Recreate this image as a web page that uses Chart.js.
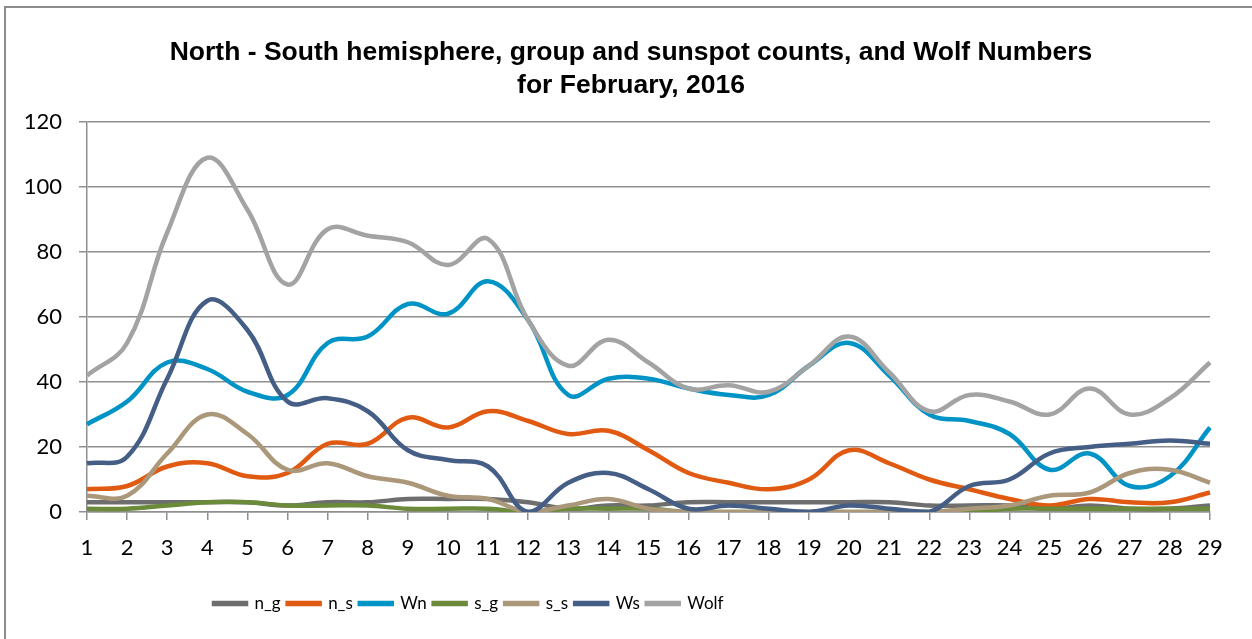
<!DOCTYPE html>
<html>
<head>
<meta charset="utf-8">
<script src="https://cdn.jsdelivr.net/npm/chart.js@4.4.1/dist/chart.umd.min.js"></script>
<style>
  html, body { margin: 0; padding: 0; background: #fff; overflow: hidden; }
  #frame { position: absolute; left: 4px; top: 6px; width: 1400px; height: 800px; border: 2px solid #8c8c8c; }
  #wrap { position: absolute; left: 0; top: 0; width: 1252px; height: 639px; }
</style>
</head>
<body>
<div id="frame"></div>
<div id="wrap"><canvas id="chart"></canvas></div>
<script>
const days = ['1','2','3','4','5','6','7','8','9','10','11','12','13','14','15',
              '16','17','18','19','20','21','22','23','24','25','26','27','28','29'];

const n_g  = [3, 3, 3, 3, 3, 2, 3, 3, 4, 4, 4, 3, 1, 2, 2, 3, 3, 3, 3, 3, 3, 2, 2, 2, 1, 2, 1, 1, 2];
const n_s  = [7, 8, 14, 15, 11, 12, 21, 21, 29, 26, 31, 28, 24, 25, 19, 12, 9, 7, 10, 19, 15, 10, 7, 4, 2, 4, 3, 3, 6];
const Wn   = [27, 34, 46, 44, 37, 36, 52, 54, 64, 61, 71, 59, 36, 41, 41, 38, 36, 36, 45, 52, 42, 30, 28, 24, 13, 18, 8, 11, 26];
const s_g  = [1, 1, 2, 3, 3, 2, 2, 2, 1, 1, 1, 0, 1, 1, 1, 0, 0, 0, 0, 0, 0, 0, 0, 1, 1, 1, 1, 1, 1];
const s_s  = [5, 5, 18, 30, 24, 13, 15, 11, 9, 5, 4, 0, 2, 4, 1, 0, 0, 0, 0, 0, 0, 0, 1, 2, 5, 6, 12, 13, 9];
const Ws   = [15, 17, 41, 65, 56, 34, 35, 31, 19, 16, 14, 0, 9, 12, 7, 1, 2, 1, 0, 2, 1, 0, 8, 10, 18, 20, 21, 22, 21];
const Wolf = [42, 52, 86, 109, 93, 70, 87, 85, 83, 76, 84, 59, 45, 53, 46, 38, 39, 37, 45, 54, 43, 31, 36, 34, 30, 38, 30, 35, 46];

const yTicks = [0, 20, 40, 60, 80, 100, 120];

const series = [
  { label: 'n_g',  data: n_g,  color: '#6e6e6e' },
  { label: 'n_s',  data: n_s,  color: '#e05a12' },
  { label: 'Wn',   data: Wn,   color: '#0094c6' },
  { label: 's_g',  data: s_g,  color: '#6b8b3b' },
  { label: 's_s',  data: s_s,  color: '#ab987a' },
  { label: 'Ws',   data: Ws,   color: '#455e85' },
  { label: 'Wolf', data: Wolf, color: '#a3a3a3' },
];

// excel centres the title on the whole frame and puts the legend left of centre
const placeBlocks = {
  id: 'placeBlocks',
  afterLayout(chart) {
    chart.titleBlock.left = 0;
    chart.titleBlock.right = 1262;
    chart.legend.left = 207;
  }
};

const gridColor = '#8f8f8f';

new Chart(document.getElementById('chart'), {
  type: 'line',
  data: {
    labels: days,
    datasets: series.map((s, i) => ({
      label: s.label,
      data: s.data,
      borderColor: s.color,
      backgroundColor: s.color,
      borderWidth: 4.5,
      pointRadius: 0,
      tension: 0.4,
      order: series.length - i,
    }))
  },
  options: {
    responsive: true,
    maintainAspectRatio: false,
    animation: false,
    layout: { padding: { left: 0, right: 42, top: 0, bottom: 17 } },
    plugins: {
      title: {
        display: true,
        text: ['North - South hemisphere, group and sunspot counts, and Wolf Numbers', 'for February, 2016'],
        color: '#000',
        font: { family: '"Liberation Sans", Arial, sans-serif', size: 26.5, weight: 'bold', lineHeight: 1.245 },
        padding: { top: 36, bottom: 20 }
      },
      legend: {
        position: 'bottom',
        align: 'start',
        labels: {
          boxWidth: 32,
          boxHeight: 1,
          padding: 7,
          color: '#000',
          font: { family: 'Lato, sans-serif', size: 17 },
          sort: (a, b) => a.datasetIndex - b.datasetIndex
        }
      },
      tooltip: { enabled: false }
    },
    scales: {
      x: {
        grid: { drawOnChartArea: false, drawTicks: true, tickLength: 8, color: gridColor, lineWidth: 1.5 },
        border: { color: gridColor, width: 1.5 },
        ticks: { color: '#000', padding: 15, maxRotation: 0, autoSkip: false, font: { family: 'Lato, sans-serif', size: 22 } },
        afterFit: s => { s.height = 76; }
      },
      y: {
        min: 0,
        max: 120,
        afterBuildTicks: s => { s.ticks = yTicks.map(v => ({ value: v })); },
        grid: { color: gridColor, lineWidth: 1.5, tickLength: 8 },
        border: { color: gridColor, width: 1.5 },
        ticks: { color: '#000', padding: 17, font: { family: 'Lato, sans-serif', size: 22 } },
        afterFit: s => { s.width = 87; }
      }
    }
  },
  plugins: [placeBlocks]
});
</script>
</body>
</html>
